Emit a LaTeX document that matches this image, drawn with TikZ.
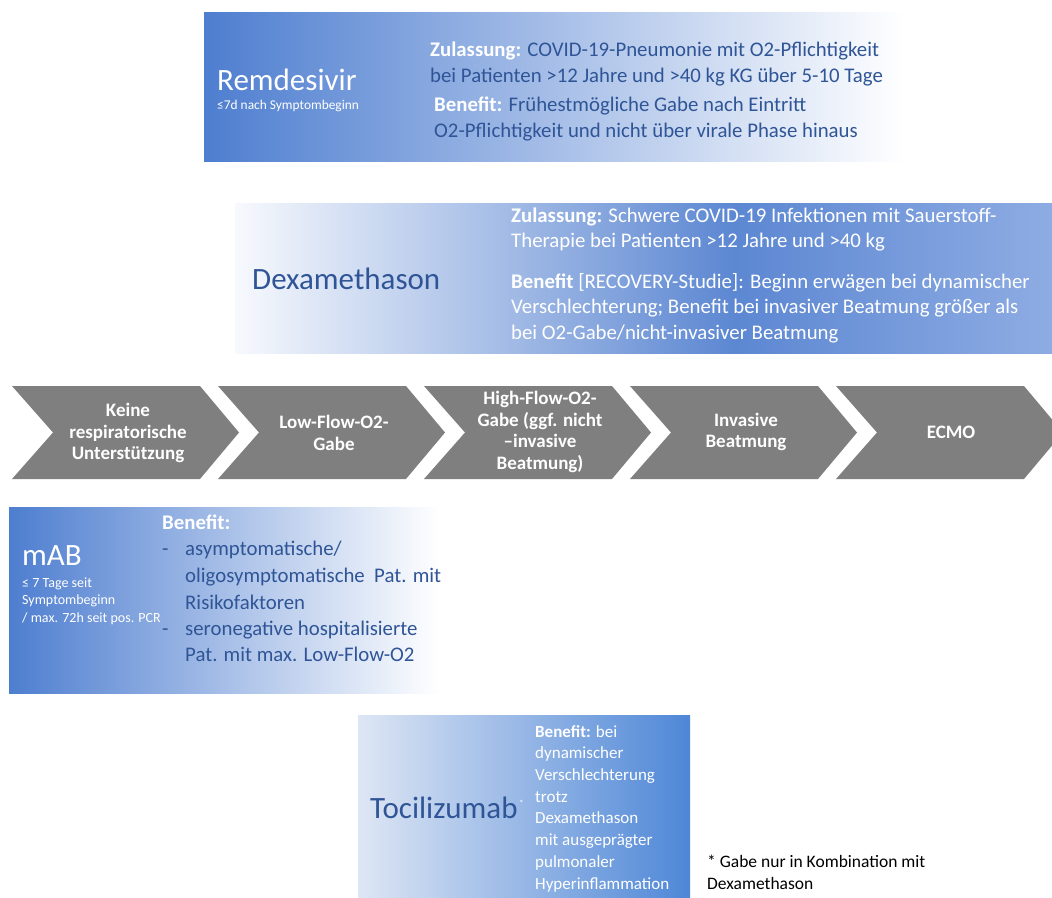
\documentclass[tikz,border=0pt]{standalone}
\usepackage{fontspec}
\setmainfont{Carlito}
\definecolor{bA}{RGB}{78,126,208}
\definecolor{dB}{RGB}{47,85,151}
\definecolor{chevgray}{RGB}{127,127,127}
\definecolor{dxL}{RGB}{247,249,253}
\definecolor{dxM}{RGB}{92,135,210}
\definecolor{dxR}{RGB}{142,172,227}
\definecolor{tcL}{RGB}{222,230,244}
\definecolor{tcR}{RGB}{78,135,215}
\pgfdeclarehorizontalshading{remgrad}{100bp}{color(0bp)=(bA); color(25bp)=(bA); color(75bp)=(white); color(100bp)=(white)}
\pgfdeclarehorizontalshading{dexgrad}{100bp}{color(0bp)=(dxL); color(25bp)=(dxL); color(55.6bp)=(dxM); color(75bp)=(dxR); color(100bp)=(dxR)}
\pgfdeclarehorizontalshading{tocgrad}{100bp}{color(0bp)=(tcL); color(25bp)=(tcL); color(75bp)=(tcR); color(100bp)=(tcR)}
% note: for multi-line nodes the base anchor is the baseline of the LAST line
\tikzset{
  titletext/.style={anchor=base west, inner sep=0, font=\fontsize{31}{37}\selectfont},
  bodytext/.style={anchor=base west, inner sep=0, align=left, font=\fontsize{20.8}{26}\selectfont},
  subtext/.style={anchor=base west, inner sep=0, align=left, text=white, font=\fontsize{13.4}{17.5}\selectfont},
  chevtext/.style={anchor=center, inner sep=0, align=center, text=white, font=\fontsize{19}{21.8}\selectfont\bfseries},
  tocitext/.style={anchor=base west, inner sep=0, align=left, text=white, font=\fontsize{17}{21.7}\selectfont},
}
\begin{document}
\begin{tikzpicture}[x=1pt,y=-1pt]
\useasboundingbox (0,0) rectangle (1052,897);
\fill[white] (0,0) rectangle (1052,897);
% Remdesivir
\shade[shading=remgrad] (204,12) rectangle (905,161);
\node[titletext, text=white] (remT) at (217,90) {Remdesivir};
\node[subtext] (remS) at (217,109) {≤7d nach Symptombeginn};
\node[bodytext, text=dB] (remZ) at (430,82) {\textcolor{white}{\textbf{Zulassung:}} COVID-19-Pneumonie mit O2-Pflichtigkeit\\bei Patienten >12 Jahre und >40 kg KG über 5-10 Tage};
\node[bodytext, text=dB] (remB) at (434,137) {\textcolor{white}{\textbf{Benefit:}} Frühestmögliche Gabe nach Eintritt\\O2-Pflichtigkeit und nicht über virale Phase hinaus};
% Dexamethason
\shade[shading=dexgrad] (235,203) rectangle (1052,353);
\node[titletext, text=dB] (dexT) at (252,289) {Dexamethason};
\node[bodytext, text=white, font=\fontsize{20.8}{25}\selectfont] (dexZ) at (511,247) {\textbf{Zulassung:} Schwere COVID-19 Infektionen mit Sauerstoff-\\Therapie bei Patienten >12 Jahre und >40 kg};
\node[bodytext, text=white, font=\fontsize{20.8}{25.5}\selectfont] (dexB) at (511,339) {\textbf{Benefit} [RECOVERY-Studie]: Beginn erwägen bei dynamischer\\Verschlechterung; Benefit bei invasiver Beatmung größer als\\bei O2-Gabe/nicht-invasiver Beatmung};
% Chevrons
\begin{scope}
\clip (0,0) rectangle (1052,897);
\foreach \x in {12,218,424,630,836} {
  \fill[chevgray] (\x,386) -- ++(188,0) -- ++(39,46.5) -- ++(-39,46.5) -- ++(-188,0) -- ++(41,-46.5) -- cycle;
}
\end{scope}
\node[chevtext] (c1) at (128,433) {Keine\\respiratorische\\Unterstützung};
\node[chevtext] (c2) at (334,433) {Low-Flow-O2-\\Gabe};
\node[chevtext] (c3) at (540,432) {High-Flow-O2-\\Gabe (ggf. nicht\\–invasive\\Beatmung)};
\node[chevtext] (c4) at (746,432) {Invasive\\Beatmung};
\node[chevtext] (c5) at (951,432) {ECMO};
% mAB
\shade[shading=remgrad] (9,507) rectangle (440,693);
\node[titletext, text=white] (mabT) at (22,565) {mAB};
\node[subtext, font=\fontsize{14}{17.5}\selectfont] (mabS) at (22,622) {≤ 7 Tage seit\\Symptombeginn\\/ max. 72h seit pos. PCR};
\node[bodytext, text=white] (mabB) at (162,529) {\textbf{Benefit:}};
\node[bodytext, text=dB] (mabD1) at (162,555) {-};
\node[bodytext, text=dB, font=\fontsize{20.8}{27}\selectfont] (mabL1) at (185,609) {asymptomatische/\\oligosymptomatische\ \ Pat. mit\\Risikofaktoren};
\node[bodytext, text=dB] (mabD2) at (162,635) {-};
\node[bodytext, text=dB] (mabL2) at (185,661) {seronegative hospitalisierte\\Pat. mit max. Low-Flow-O2};
% Tocilizumab
\shade[shading=tocgrad] (358,715) rectangle (690,897);
\node[titletext, text=dB] (tocT) at (370,818) {Tocilizumab};
\node[anchor=base west, inner sep=0, text=white, font=\fontsize{9}{10}\selectfont] (tocStar) at (519,806) {*};
\node[tocitext] (tocB) at (535,889) {\textbf{Benefit:} bei\\dynamischer\\Verschlechterung\\trotz\\Dexamethason\\mit ausgeprägter\\pulmonaler\\Hyperinflammation};
% footnote
\node[anchor=base west, inner sep=0, align=left, text=black, font=\fontsize{17.5}{22}\selectfont] (foot) at (707,889) {* Gabe nur in Kombination mit\\Dexamethason};
\end{tikzpicture}
\end{document}
